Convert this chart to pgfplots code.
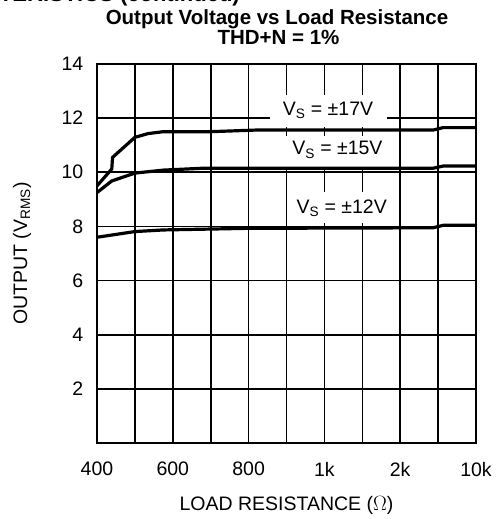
\documentclass[border=0pt]{standalone}
\usepackage{pgfplots}
\pgfplotsset{compat=1.18}
\usepackage{fontspec}
\setmainfont{Liberation Sans}
\newcommand\lbl{\fontsize{19.5bp}{23bp}\selectfont}
\begin{document}
\begin{tikzpicture}
\useasboundingbox (-97bp,-76bp) rectangle (402bp,443bp);
\node[anchor=base east, font=\fontsize{22bp}{26bp}\selectfont\bfseries, inner sep=0pt] at (143bp,441.5bp) {CHARACTERISTICS (continued)};
\node[anchor=base, font=\fontsize{20.5bp}{24bp}\selectfont\bfseries, inner sep=0pt] at (180bp,418bp) {Output Voltage vs Load Resistance};
\node[anchor=base, font=\fontsize{20.5bp}{24bp}\selectfont\bfseries, inner sep=0pt] at (181.5bp,398bp) {THD+N = 1\%};
\begin{axis}[at={(0,0)}, anchor=south west, scale only axis, width=379bp, height=379bp,
  xmin=0, xmax=10, ymin=0, ymax=14,
  xtick={0,...,10}, xticklabels={400,,600,,800,,1k,,2k,,10k},
  ytick={0,2,...,14}, yticklabels={,2,4,6,8,10,12,14},
  major tick length=0pt,
  grid=major, major grid style={black, line width=1.6bp},
  axis line style={line width=2.8bp},
  tick label style={font=\lbl, inner sep=0pt},
  xticklabel style={anchor=north, yshift=-19bp},
  yticklabel style={anchor=east, xshift=-13.5bp},
  xlabel={LOAD RESISTANCE ($\Omega$)}, ylabel={OUTPUT (V\textsubscript{RMS})},
  label style={font=\lbl},
  xlabel style={at={(axis description cs:0.5,-0.1768)}, anchor=base},
  ylabel style={at={(axis description cs:-0.198,0.5)}, anchor=center}
]
\node[fill=white, inner xsep=0pt, inner ysep=3bp, text height=17bp, text depth=8.5bp, minimum width=117bp, anchor=base, font=\lbl] at (axis cs:6.095,12.116) {V\textsubscript{S} = ±17V};
\node[fill=white, inner xsep=0pt, inner ysep=3bp, text height=16bp, text depth=10bp, minimum width=110bp, anchor=base, font=\lbl] at (axis cs:6.343,10.639) {V\textsubscript{S} = ±15V};
\node[fill=white, inner xsep=0pt, inner ysep=3bp, text height=18.6bp, text depth=7bp, minimum width=110bp, anchor=base, font=\lbl] at (axis cs:6.456,8.485) {V\textsubscript{S} = ±12V};
\addplot[black, no markers, line width=3.2bp, line join=round] coordinates {(0,9.5) (0.39,10.12) (0.41,10.55) (1.0,11.29) (1.35,11.43) (1.75,11.5) (3.0,11.5) (4.2,11.56) (8.87,11.56) (9.13,11.65) (10,11.65)};
\addplot[black, no markers, line width=3.2bp, line join=round] coordinates {(0,9.25) (0.39,9.68) (1.0,9.97) (1.75,10.08) (2.8,10.15) (8.87,10.15) (9.13,10.23) (10,10.23)};
\addplot[black, no markers, line width=3.2bp, line join=round] coordinates {(0,7.6) (1.0,7.81) (1.75,7.87) (4.0,7.93) (8.87,7.95) (9.13,8.04) (10,8.04)};
\end{axis}
\end{tikzpicture}
\end{document}
